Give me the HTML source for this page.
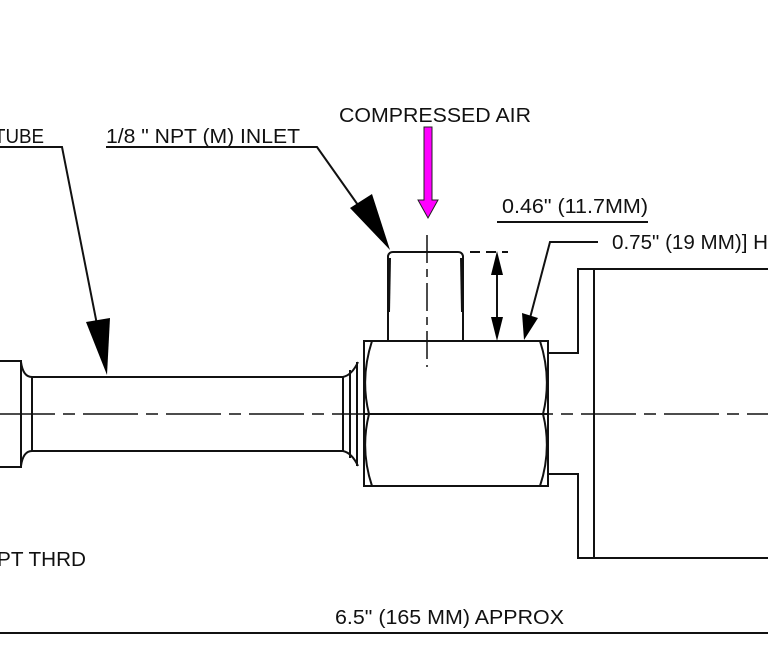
<!DOCTYPE html>
<html><head><meta charset="utf-8"><style>
html,body{margin:0;padding:0;background:#fff}
svg{display:block}
text{font-family:"Liberation Sans",Arial,sans-serif;font-size:20px;fill:#111}
</style></head><body>
<svg width="768" height="671" viewBox="0 0 768 671" xmlns="http://www.w3.org/2000/svg">
<g stroke="#111" stroke-width="2" fill="none">
<path d="M0 361 H21 V467 H0"/>
<path d="M21 362 Q23 377 32 377 M21 466 Q23 451 32 451"/>
<line x1="32" y1="377" x2="32" y2="451"/>
<line x1="32" y1="377" x2="343" y2="377"/>
<line x1="32" y1="451" x2="343" y2="451"/>
<line x1="343" y1="377" x2="343" y2="451"/>
<line x1="350" y1="370" x2="350" y2="458"/>
<path d="M343 377 Q352 375 358 362 M343 451 Q352 453 358 466"/>
<line x1="357" y1="362" x2="357" y2="466"/>
<rect x="364" y="341" width="184" height="145"/>
<line x1="364" y1="414" x2="548" y2="414"/>
<path d="M372 341 Q360 378 369 414 Q360 450 372 486"/>
<path d="M540 341 Q552 378 543 414 Q552 450 540 486"/>
<path d="M388 341 V256 Q389 252 393 252 H458 Q462 252 463 256 V341"/>
<line x1="390" y1="258" x2="389" y2="312"/>
<line x1="461" y1="258" x2="462" y2="312"/>
<path d="M548 353 H578 V269 H768"/>
<path d="M548 474 H578 V558 H768"/>
<line x1="594" y1="269" x2="594" y2="558"/>
<line x1="0" y1="633" x2="768" y2="633"/>
<path d="M0 147 H62 L104 360"/>
<path d="M106 147 H317 L370 222"/>
<path d="M470 252 H508" stroke-dasharray="10 6"/>
<path d="M497 222 H648"/>
<line x1="497" y1="260" x2="497" y2="332"/>
<path d="M598 242 H550 L530 318"/>
</g>
<g stroke="#111" stroke-width="1.5" fill="none">
<line x1="0" y1="414" x2="768" y2="414" stroke-dasharray="55 8 12 8"/>
<line x1="427" y1="235" x2="427" y2="367" stroke-dasharray="28 6 8 6"/>
</g>
<g fill="#000">
<polygon points="86,322 110,318 107,375"/>
<polygon points="350,208 372,194 390,250"/>
<polygon points="497,251 491,275 503,275"/>
<polygon points="497,341 491,317 503,317"/>
<polygon points="524,340 522,313 538,318"/>
</g>
<polygon points="424,127 432,127 432,200 438,200 428,218 418,200 424,200" fill="#ff00ff" stroke="#222" stroke-width="1"/>
<text x="339" y="122" textLength="192" lengthAdjust="spacingAndGlyphs">COMPRESSED AIR</text>
<text x="106" y="143" textLength="194" lengthAdjust="spacingAndGlyphs">1/8 " NPT (M) INLET</text>
<text x="-6" y="143" textLength="50" lengthAdjust="spacingAndGlyphs">TUBE</text>
<text x="502" y="213" textLength="146" lengthAdjust="spacingAndGlyphs">0.46" (11.7MM)</text>
<text x="612" y="249" textLength="156" lengthAdjust="spacingAndGlyphs">0.75" (19 MM)] H</text>
<text x="-3" y="566" textLength="89" lengthAdjust="spacingAndGlyphs">PT THRD</text>
<text x="335" y="624" textLength="229" lengthAdjust="spacingAndGlyphs">6.5" (165 MM) APPROX</text>
</svg>
</body></html>
